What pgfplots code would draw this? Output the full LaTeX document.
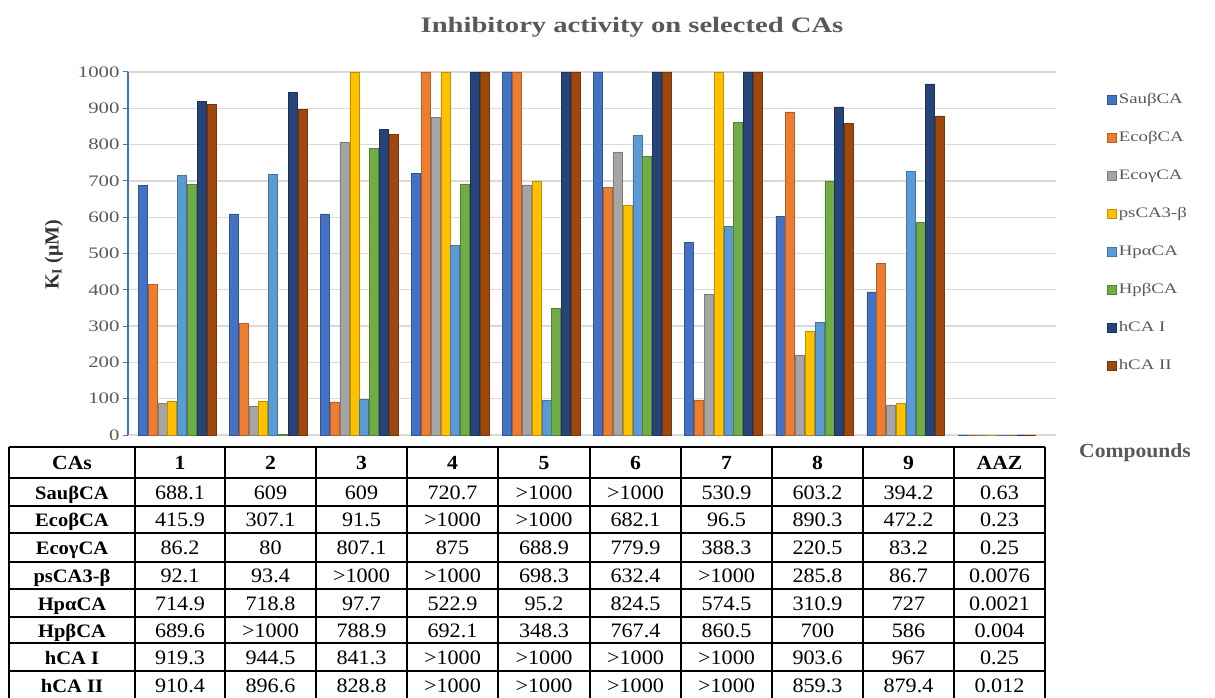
\documentclass[border=0pt]{standalone}
\usepackage{fontspec}
\setmainfont{Liberation Serif}
\newfontfamily\chartfont[FakeStretch=1.3]{Liberation Serif}
\newfontfamily\tabfont[FakeStretch=1.08]{Liberation Serif}
\usepackage{pgfplots}
\pgfplotsset{compat=1.18}

\definecolor{csau}{HTML}{4472C4}
\definecolor{cecob}{HTML}{ED7D31}
\definecolor{cecog}{HTML}{A5A5A5}
\definecolor{cps}{HTML}{FFC000}
\definecolor{chpa}{HTML}{5B9BD5}
\definecolor{chpb}{HTML}{70AD47}
\definecolor{chI}{HTML}{264478}
\definecolor{chII}{HTML}{9E480E}
\definecolor{txtgray}{HTML}{595959}
\definecolor{gridgray}{HTML}{D9D9D9}

\begin{document}
\begin{tikzpicture}[x=1pt,y=1pt]
\useasboundingbox (0,0) rectangle (1215,-698);

\node[font=\chartfont\bfseries\fontsize{22}{26}\selectfont, text=txtgray] at (632,-27) {Inhibitory activity on selected CAs};

\begin{axis}[
  at={(128pt,-435pt)}, anchor=south west,
  scale only axis, width=928pt, height=363pt,
  ybar=0.8pt, bar width=9pt,
  xmin=-0.538, xmax=9.65, ymin=0, ymax=1000,
  xtick=\empty, hide x axis,
  axis y line*=left,
  y axis line style={draw=csau, line width=1.2pt, -},
  ytick={0,100,...,1000},
  ytick style={draw=csau, line width=1pt},
  tick align=outside, major tick length=5pt,
  ymajorgrids, grid style={draw=gridgray, line width=1.3pt},
  yticklabel style={font=\chartfont\fontsize{16}{18}\selectfont, text=txtgray},
  /pgf/number format/assume math mode=true,
  /pgf/number format/1000 sep={},
  ylabel={K\textsubscript{I} (μM)},
  ylabel style={at={(axis description cs:-0.08,0.496)}, anchor=center,
    font=\bfseries\fontsize{20}{22}\selectfont, text=black!80},
  legend image code/.code={\draw[#1, line width=0.3pt] (0pt,-4.5pt) rectangle (9pt,4.5pt);},
  legend style={draw=none, fill=none, at={(axis description cs:1.052,0.955)},
    anchor=north west, row sep=19pt,
    font=\chartfont\fontsize{14.5}{16}\selectfont, text=txtgray,
    nodes={inner sep=2pt, text height=11pt, text depth=4pt}},
  legend cell align=left,
]
\addplot[fill=csau, draw=csau!75!black, line width=0.5pt] coordinates
  {(0,688.1) (1,609) (2,609) (3,720.7) (4,1000) (5,1000) (6,530.9) (7,603.2) (8,394.2) (9,0.63)};
\addplot[fill=cecob, draw=cecob!75!black, line width=0.5pt] coordinates
  {(0,415.9) (1,307.1) (2,91.5) (3,1000) (4,1000) (5,682.1) (6,96.5) (7,890.3) (8,472.2) (9,0.23)};
\addplot[fill=cecog, draw=cecog!75!black, line width=0.5pt] coordinates
  {(0,86.2) (1,80) (2,807.1) (3,875) (4,688.9) (5,779.9) (6,388.3) (7,220.5) (8,83.2) (9,0.25)};
\addplot[fill=cps, draw=cps!75!black, line width=0.5pt] coordinates
  {(0,92.1) (1,93.4) (2,1000) (3,1000) (4,698.3) (5,632.4) (6,1000) (7,285.8) (8,86.7) (9,0.0076)};
\addplot[fill=chpa, draw=chpa!75!black, line width=0.5pt] coordinates
  {(0,714.9) (1,718.8) (2,97.7) (3,522.9) (4,95.2) (5,824.5) (6,574.5) (7,310.9) (8,727) (9,0.0021)};
\addplot[fill=chpb, draw=chpb!75!black, line width=0.5pt] coordinates
  {(0,689.6) (1,2) (2,788.9) (3,692.1) (4,348.3) (5,767.4) (6,860.5) (7,700) (8,586) (9,0.004)};
\addplot[fill=chI, draw=chI!75!black, line width=0.5pt] coordinates
  {(0,919.3) (1,944.5) (2,841.3) (3,1000) (4,1000) (5,1000) (6,1000) (7,903.6) (8,967) (9,0.25)};
\addplot[fill=chII, draw=chII!75!black, line width=0.5pt] coordinates
  {(0,910.4) (1,896.6) (2,828.8) (3,1000) (4,1000) (5,1000) (6,1000) (7,859.3) (8,879.4) (9,0.012)};
\legend{SauβCA, EcoβCA, EcoγCA, psCA3-β, HpαCA, HpβCA, hCA I, hCA II}
\end{axis}

\node[font=\tabfont\bfseries\fontsize{20}{22}\selectfont, text=txtgray] at (1135,-453) {Compounds};

% table of values below the chart
\begin{scope}[line width=1.3pt]
\foreach \yy in {447,478,506,533,562,589,617,643,671}
  \draw (9,-\yy) -- (1045,-\yy);
\foreach \xx in {9,135,225,316,407,498,590,681,772,863,954,1045}
  \draw (\xx,-447) -- (\xx,-699);
\end{scope}

\begin{scope}[every node/.style={text height=16pt, text depth=2pt, inner sep=0pt}]
\foreach \cx/\t in {72/CAs,180/1,270.5/2,361.5/3,452.5/4,544/5,635.5/6,726.5/7,817.5/8,908.5/9,999.5/AAZ}
  \node[font=\tabfont\bfseries\fontsize{20}{22}\selectfont] at (\cx,-462.5) {\t};

\foreach \ry/\lab/\va/\vb/\vc/\vd/\ve/\vf/\vg/\vh/\vi/\vj in {
  492/SauβCA/688.1/609/609/720.7/>1000/>1000/530.9/603.2/394.2/0.63,
  519.5/EcoβCA/415.9/307.1/91.5/>1000/>1000/682.1/96.5/890.3/472.2/0.23,
  547.5/EcoγCA/86.2/80/807.1/875/688.9/779.9/388.3/220.5/83.2/0.25,
  575.5/psCA3-β/92.1/93.4/>1000/>1000/698.3/632.4/>1000/285.8/86.7/0.0076,
  603/HpαCA/714.9/718.8/97.7/522.9/95.2/824.5/574.5/310.9/727/0.0021,
  630/HpβCA/689.6/>1000/788.9/692.1/348.3/767.4/860.5/700/586/0.004,
  657/hCA I/919.3/944.5/841.3/>1000/>1000/>1000/>1000/903.6/967/0.25,
  685/hCA II/910.4/896.6/828.8/>1000/>1000/>1000/>1000/859.3/879.4/0.012}{
  \node[font=\tabfont\bfseries\fontsize{19}{21}\selectfont] at (72,-\ry) {\lab};
  \begin{scope}[font=\tabfont\fontsize{20.5}{22}\selectfont]
  \node at (180,-\ry) {\va};
  \node at (270.5,-\ry) {\vb};
  \node at (361.5,-\ry) {\vc};
  \node at (452.5,-\ry) {\vd};
  \node at (544,-\ry) {\ve};
  \node at (635.5,-\ry) {\vf};
  \node at (726.5,-\ry) {\vg};
  \node at (817.5,-\ry) {\vh};
  \node at (908.5,-\ry) {\vi};
  \node at (999.5,-\ry) {\vj};
  \end{scope}
}
\end{scope}
\end{tikzpicture}
\end{document}
